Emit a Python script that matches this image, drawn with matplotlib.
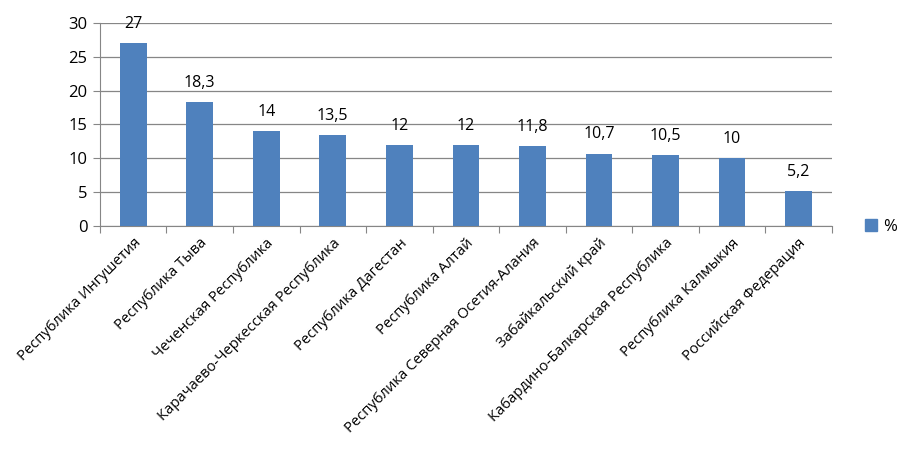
import matplotlib.pyplot as plt
from matplotlib.patches import Patch

regions = ['Республика Ингушетия', 'Республика Тыва', 'Чеченская Республика',
           'Карачаево-Черкесская Республика', 'Республика Дагестан', 'Республика Алтай',
           'Республика Северная Осетия-Алания', 'Забайкальский край',
           'Кабардино-Балкарская Республика', 'Республика Калмыкия',
           'Российская Федерация']
values = [27, 18.3, 14, 13.5, 12, 12, 11.8, 10.7, 10.5, 10, 5.2]
value_labels = ['27', '18,3', '14', '13,5', '12', '12', '11,8', '10,7', '10,5', '10', '5,2']
yticks = [0, 5, 10, 15, 20, 25, 30]

plt.rcParams['font.family'] = ['Open Sans', 'DejaVu Sans']

fig = plt.figure(figsize=(9.17, 4.51), dpi=100)
ax = fig.add_axes([0.109, 0.499, 0.798, 0.450])

color = '#4F81BD'
x = list(range(len(values)))
ax.bar(x, values, width=0.4, color=color, zorder=3)

for xi, v, lab in zip(x, values, value_labels):
    ax.annotate(lab, (xi, v), xytext=(0, 8), textcoords='offset points',
                ha='center', va='bottom', fontsize=11.5)

ax.set_xlim(-0.5, len(values) - 0.5)
ax.set_ylim(0, 30)
ax.set_yticks(yticks)
ax.tick_params(axis='y', labelsize=12, length=5, color='#868686', pad=4)
ax.yaxis.grid(True, color='#868686', linewidth=0.9, zorder=0)

# category ticks at boundaries, labels at centres
ax.set_xticks([i - 0.5 for i in range(len(values) + 1)])
ax.set_xticklabels([])
ax.set_xticks(x, minor=True)
ax.set_xticklabels(regions, minor=True, rotation=45, ha='right',
                   rotation_mode='anchor', fontsize=10.6)
ax.tick_params(axis='x', which='major', length=5, color='#868686')
ax.tick_params(axis='x', which='minor', length=0, pad=7)

for side in ['top', 'right']:
    ax.spines[side].set_visible(False)
for side in ['left', 'bottom']:
    ax.spines[side].set_color('#868686')

fig.legend(handles=[Patch(color=color, label='%')], loc='center left',
           bbox_to_anchor=(0.927, 0.497), frameon=False, fontsize=12,
           handlelength=0.7, handleheight=0.7, handletextpad=0.4)

fig.savefig('out.png', dpi=100)
